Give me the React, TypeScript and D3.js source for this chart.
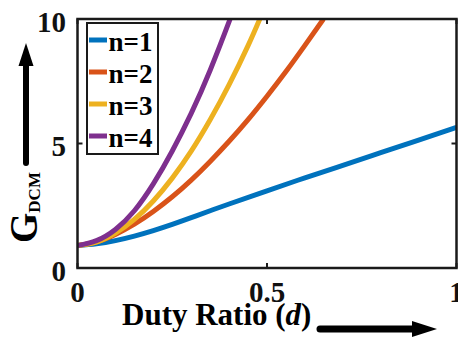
import React from "react";
import * as d3 from "d3";

// Voltage gain in discontinuous conduction mode vs. duty ratio, for n = 1..4
const dutyN1 = [0, 0.05, 0.1, 0.15, 0.2, 0.25, 0.3, 0.35, 0.4, 0.5, 0.6, 0.7, 0.8, 0.9, 1.0];
const gainN1 = [0.9, 0.97, 1.1, 1.28, 1.5, 1.75, 2.02, 2.3, 2.57, 3.1, 3.62, 4.12, 4.63, 5.14, 5.65];

const dutyN2 = [0, 0.05, 0.1, 0.15, 0.2, 0.25, 0.3, 0.35, 0.4, 0.45, 0.5, 0.55, 0.6, 0.649];
const gainN2 = [0.9, 1.05, 1.35, 1.76, 2.27, 2.86, 3.53, 4.28, 5.09, 5.96, 6.9, 7.89, 8.94, 10];

const dutyN3 = [0, 0.05, 0.1, 0.15, 0.2, 0.25, 0.3, 0.35, 0.4, 0.45, 0.481];
const gainN3 = [0.9, 1.04, 1.4, 1.95, 2.69, 3.61, 4.69, 5.95, 7.36, 8.93, 10];

const dutyN4 = [0, 0.05, 0.1, 0.15, 0.2, 0.25, 0.3, 0.35, 0.4, 0.402];
const gainN4 = [0.9, 1.1, 1.55, 2.3, 3.38, 4.7, 6.21, 7.94, 9.89, 10];

const seriesNames = ["n=1", "n=2", "n=3", "n=4"];
const seriesColors = ["#0072BD", "#D95319", "#EDB120", "#7E2F8E"];

const xTicks = [0, 0.5, 1];
const xTickLabels = ["0", "0.5", "1"];
const yTicks = [0, 5, 10];
const yTickLabels = ["0", "5", "10"];

const W = 458;
const H = 346;
const plot = { left: 77.5, right: 456.5, top: 19, bottom: 268 };
const serif = "Liberation Serif";

export default function App() {
  const x = d3.scaleLinear().domain([0, 1]).range([plot.left, plot.right]);
  const y = d3.scaleLinear().domain([0, 10]).range([plot.bottom, plot.top]);

  const series = [
    { d: dutyN1, g: gainN1 },
    { d: dutyN2, g: gainN2 },
    { d: dutyN3, g: gainN3 },
    { d: dutyN4, g: gainN4 },
  ];

  const line = d3
    .line<[number, number]>()
    .x((p) => x(p[0]))
    .y((p) => y(p[1]))
    .curve(d3.curveNatural);

  const frameColor = "#1a1a1a";
  const tickLen = 5;

  return (
    <div style={{ position: "fixed", left: 0, top: 0 }}>
      <svg width={W} height={H} style={{ display: "block", background: "#fff" }}>
        <defs>
          <clipPath id="plotClip">
            <rect x={plot.left} y={plot.top} width={plot.right - plot.left} height={plot.bottom - plot.top} />
          </clipPath>
        </defs>

        <g clipPath="url(#plotClip)">
          {series.map((s, i) => (
            <path
              key={i}
              d={line(s.d.map((v, k) => [v, s.g[k]] as [number, number])) || ""}
              fill="none"
              stroke={seriesColors[i]}
              strokeWidth={5}
              strokeLinejoin="round"
            />
          ))}
        </g>

        {/* frame */}
        <rect
          x={plot.left}
          y={plot.top}
          width={plot.right - plot.left}
          height={plot.bottom - plot.top}
          fill="none"
          stroke={frameColor}
          strokeWidth={2.5}
        />

        {/* inner ticks */}
        {xTicks.map((t, i) => (
          <g key={"xt" + i}>
            <line x1={x(t)} x2={x(t)} y1={plot.bottom} y2={plot.bottom - tickLen} stroke={frameColor} strokeWidth={2} />
            <line x1={x(t)} x2={x(t)} y1={plot.top} y2={plot.top + tickLen} stroke={frameColor} strokeWidth={2} />
          </g>
        ))}
        {yTicks.map((t, i) => (
          <g key={"yt" + i}>
            <line x1={plot.left} x2={plot.left + tickLen} y1={y(t)} y2={y(t)} stroke={frameColor} strokeWidth={2} />
            <line x1={plot.right} x2={plot.right - tickLen} y1={y(t)} y2={y(t)} stroke={frameColor} strokeWidth={2} />
          </g>
        ))}

        {/* tick labels */}
        {xTicks.map((t, i) => (
          <text
            key={"xl" + i}
            x={x(t)}
            y={302}
            textAnchor="middle"
            fontSize={29}
            fontWeight="bold"
            fontFamily={serif}
            fill="#111"
          >
            {xTickLabels[i]}
          </text>
        ))}
        {yTicks.map((t, i) => (
          <text
            key={"yl" + i}
            x={66}
            y={y(t) + 12.5}
            textAnchor="end"
            fontSize={29}
            fontWeight="bold"
            fontFamily={serif}
            fill="#111"
          >
            {yTickLabels[i]}
          </text>
        ))}

        {/* legend */}
        <rect x={87} y={23} width={71} height={131} fill="#fff" stroke={frameColor} strokeWidth={2} />
        {seriesNames.map((name, i) => {
          const ly = 40 + i * 32;
          return (
            <g key={"lg" + i}>
              <line x1={89} x2={107} y1={ly} y2={ly} stroke={seriesColors[i]} strokeWidth={5} />
              <text x={108.5} y={ly + 11} fontSize={27} fontWeight="bold" fontFamily={serif} fill="#000">
                {name}
              </text>
            </g>
          );
        })}

        {/* x axis label with arrow */}
        <text x={122} y={325} fontSize={31} fontWeight="bold" fontFamily={serif} fill="#000">
          Duty Ratio (<tspan fontStyle="italic">d</tspan>)
        </text>
        <line x1={320} x2={416} y1={329} y2={329} stroke="#000" strokeWidth={7} strokeLinecap="round" />
        <path d="M412,321 L437,329 L412,337 Z" fill="#000" />

        {/* y axis label with arrow */}
        <text
          transform="translate(37,243) rotate(-90)"
          fontSize={39}
          fontWeight="bold"
          fontFamily={serif}
          fill="#000"
        >
          G
          <tspan fontSize={17} dy={3}>
            DCM
          </tspan>
        </text>
        <line x1={26} x2={26} y1={163} y2={62} stroke="#000" strokeWidth={6} strokeLinecap="round" />
        <path d="M18.5,66 L26,43 L33.5,66 Z" fill="#000" />
      </svg>
    </div>
  );
}
